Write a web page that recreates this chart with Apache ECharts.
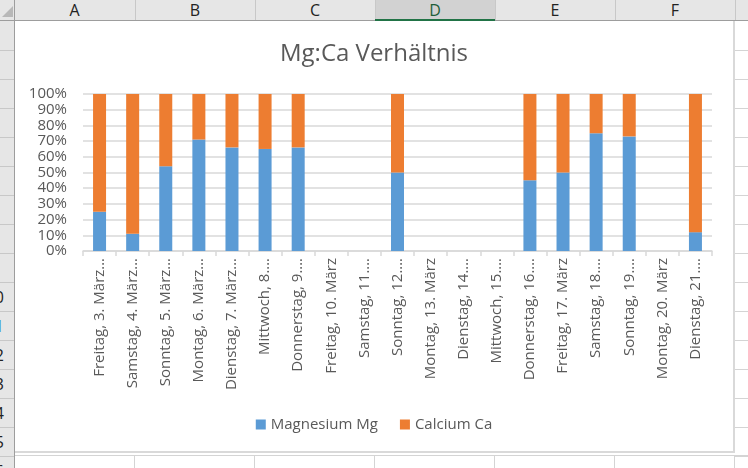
<!DOCTYPE html>
<html>
<head>
<meta charset="utf-8">
<script src="https://cdn.jsdelivr.net/npm/echarts@6/dist/echarts.min.js"></script>
<style>
  html, body { margin:0; padding:0; background:#fff; }
  body { width:748px; height:468px; position:relative; overflow:hidden; font-family:"Open Sans", sans-serif; }
  .abs { position:absolute; }
  #chart { position:absolute; left:0; top:0; width:748px; height:468px; }
</style>
</head>
<body>
<div id="chrome"></div>
<div id="chart"></div>
<script>
// ---- data ----
const categories = [
  "Freitag, 3. März…", "Samstag, 4. März…", "Sonntag, 5. März…", "Montag, 6. März…",
  "Dienstag, 7. März…", "Mittwoch, 8.…", "Donnerstag, 9.…", "Freitag, 10. März",
  "Samstag, 11.…", "Sonntag, 12.…", "Montag, 13. März", "Dienstag, 14.…",
  "Mittwoch, 15.…", "Donnerstag, 16.…", "Freitag, 17. März", "Samstag, 18.…",
  "Sonntag, 19.…", "Montag, 20. März", "Dienstag, 21.…"
];
const magnesium = [25, 11, 54, 71, 66, 65, 66, null, null, 50, null, null, null, 45, 50, 75, 73, null, 12];
const calcium   = [75, 89, 46, 29, 34, 35, 34, null, null, 50, null, null, null, 55, 50, 25, 27, null, 88];
const seriesNames = ["Magnesium Mg", "Calcium Ca"];
const chartTitle = "Mg:Ca Verhältnis";
const columnLetters = ["A", "B", "C", "D", "E", "F"];
const rowDigits = ["10", "11", "12", "13", "14", "15", "16"];

// ---- spreadsheet chrome ----
(function buildChrome() {
  const c = document.getElementById('chrome');
  function box(l, t, w, h, style) {
    const d = document.createElement('div');
    d.className = 'abs';
    d.style.left = l + 'px'; d.style.top = t + 'px';
    d.style.width = w + 'px'; d.style.height = h + 'px';
    Object.assign(d.style, style || {});
    c.appendChild(d);
    return d;
  }
  // header row
  box(0, 0, 748, 20, { background: '#e6e6e6' });
  const colEdges = [14, 135, 255, 375, 495, 615, 735];
  // selected column D
  box(375, 0, 120, 20, { background: '#d2d2d2' });
  for (let i = 0; i < columnLetters.length; i++) {
    const t = box(colEdges[i], 0, colEdges[i + 1] - colEdges[i], 20, {
      textAlign: 'center', fontSize: '16px', lineHeight: '21px', color: '#222',
      fontFamily: '"Liberation Sans Narrow", "Open Sans", sans-serif'
    });
    t.textContent = columnLetters[i];
    if (columnLetters[i] === 'D') t.style.color = '#1f5f3a';
  }
  for (let i = 1; i < colEdges.length; i++) {
    box(colEdges[i], 0, 1, 20, { background: '#c8c8c8' });
  }
  box(0, 20, 748, 1, { background: '#9d9d9d' });
  box(375, 19, 120, 2, { background: '#217346' });
  // left row header
  box(0, 21, 14, 447, { background: '#e6e6e6' });
  box(14, 0, 1, 468, { background: '#9d9d9d' });
  // corner triangle
  const tri = box(2, 6, 0, 0, { borderLeft: '11px solid transparent', borderBottom: '11px solid #b8b8b8', width: '0', height: '0' });
  for (let k = 0; k < 16; k++) {
    const y = Math.round(49.7 + 29 * k);
    box(0, y, 14, 1, { background: '#c8c8c8' });
  }
  for (let k = 0; k < rowDigits.length; k++) {
    const y = Math.round(281.7 + 29 * k);
    const d = box(-26, y + 3, 30, 24, { textAlign: 'right', fontSize: '16px', lineHeight: '24px',
      color: k === 1 ? '#2b79c9' : '#222', fontFamily: '"Liberation Sans Narrow", "Open Sans", sans-serif' });
    d.textContent = rowDigits[k];
  }
  // right of chart: cell grid
  for (let k = 0; k < 16; k++) {
    const y = Math.round(49.7 + 29 * k);
    box(735, y, 13, 1, { background: '#d4d4d4' });
  }
  // below chart: cell grid
  box(15, 455, 733, 1, { background: '#d4d4d4' });
  [134, 254, 374, 494, 614, 734].forEach(x => box(x, 455, 1, 13, { background: '#d4d4d4' }));
  // chart border (right & bottom)
  box(733, 21, 2, 432, { background: '#d9d9d9' });
  box(15, 451, 720, 2, { background: '#d9d9d9' });
})();

// ---- chart ----
const chart = echarts.init(document.getElementById('chart'), null, { renderer: 'canvas' });
const textColor = '#595959';
const gridColor = '#d9d9d9';
const fontFam = '"Open Sans", sans-serif';
chart.setOption({
  backgroundColor: 'transparent',
  animation: false,
  title: {
    text: chartTitle,
    left: 'center',
    top: 37,
    textStyle: { fontSize: 24, fontWeight: 'normal', color: textColor, fontFamily: fontFam }
  },
  legend: {
    data: seriesNames,
    top: 412,
    left: 'center',
    icon: 'rect',
    itemWidth: 10,
    itemHeight: 10,
    itemGap: 22,
    textStyle: { fontSize: 15, color: textColor, fontFamily: fontFam }
  },
  grid: { left: 83, right: 36, top: 94, bottom: 217, containLabel: false },
  xAxis: {
    type: 'category',
    data: categories,
    axisLine: { lineStyle: { color: gridColor, width: 1.5 } },
    axisTick: { show: true, length: 5, lineStyle: { color: gridColor, width: 1.5 } },
    axisLabel: { rotate: 90, interval: 0, margin: 7, fontSize: 15, color: textColor, fontFamily: fontFam }
  },
  yAxis: {
    type: 'value',
    min: 0,
    max: 100,
    interval: 10,
    axisLine: { show: false },
    axisTick: { show: false },
    axisLabel: { formatter: '{value}%', fontSize: 15, color: textColor, margin: 16, fontFamily: fontFam },
    splitLine: { lineStyle: { color: gridColor, width: 1.5 } }
  },
  series: [
    { name: seriesNames[0], type: 'bar', stack: 'total', data: magnesium, barWidth: 13,
      itemStyle: { color: '#5B9BD5' } },
    { name: seriesNames[1], type: 'bar', stack: 'total', data: calcium, barWidth: 13,
      itemStyle: { color: '#ED7D31' } }
  ]
});
</script>
</body>
</html>
